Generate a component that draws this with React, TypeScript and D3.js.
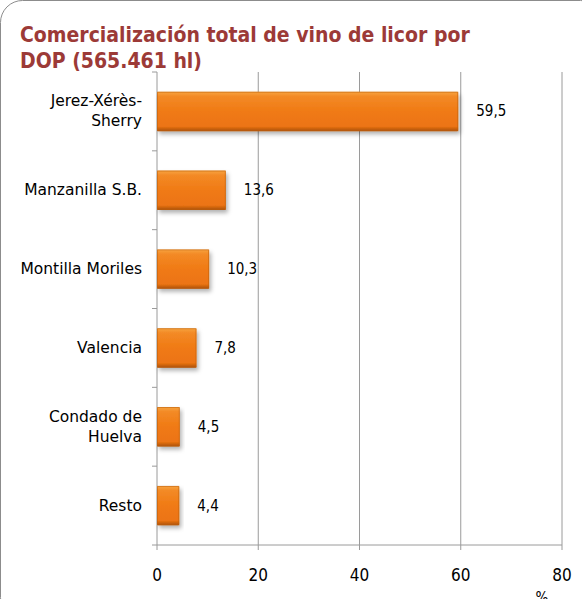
import React from "react";
import * as d3 from "d3";

const categories = ["Jerez-Xérès-Sherry", "Manzanilla S.B.", "Montilla Moriles", "Valencia", "Condado de Huelva", "Resto"];
const labelLines = [["Jerez-Xérès-", "Sherry"], ["Manzanilla S.B."], ["Montilla Moriles"], ["Valencia"], ["Condado de", "Huelva"], ["Resto"]];
const values = [59.5, 13.6, 10.3, 7.8, 4.5, 4.4];
const valueLabels = ["59,5", "13,6", "10,3", "7,8", "4,5", "4,4"];
const xTicks = [0, 20, 40, 60, 80];
const titleLines = ["Comercialización total de vino de licor por", "DOP (565.461 hl)"];

const W = 582, H = 599;
const left = 157, right = 562, top = 72, bottom = 545;
const font = "'DejaVu Sans Condensed', 'DejaVu Sans', sans-serif";
const font2 = "'DejaVu Sans', sans-serif";

export default function App() {
  const x = d3.scaleLinear().domain([0, 80]).range([left, right]);
  const y = d3.scaleBand().domain(categories).range([top, bottom]).paddingInner(0.5).paddingOuter(0.25);
  const bandStep = (bottom - top) / categories.length;
  return (
    <svg width={W} height={H} style={{ position: "absolute", left: 0, top: 0 }}>
      <defs>
        <linearGradient id="barG" x1="0" y1="0" x2="0" y2="1">
          <stop offset="0" stopColor="#f7a540" />
          <stop offset="0.12" stopColor="#f38a26" />
          <stop offset="0.5" stopColor="#f07a14" />
          <stop offset="0.88" stopColor="#ec7412" />
          <stop offset="1" stopColor="#a9500c" />
        </linearGradient>
        <filter id="sh" x="-10%" y="-20%" width="130%" height="160%">
          <feDropShadow dx="2" dy="3" stdDeviation="2" floodColor="#000" floodOpacity="0.3" />
        </filter>
      </defs>
      <rect x={0.5} y={0.5} width={W + 20} height={H + 20} rx={22} fill="#fff" stroke="#8c8c8c" />
      {titleLines.map((t, i) => (
        <text key={i} x={20} y={42 + i * 26} fontFamily={font} fontWeight="bold" fontSize={21} fill="#9c3a37">{t}</text>
      ))}
      {xTicks.filter(t => t > 0).map(t => (
        <line key={t} x1={x(t)} x2={x(t)} y1={top} y2={bottom} stroke="#9a9a9a" />
      ))}
      <line x1={left} x2={left} y1={top} y2={bottom} stroke="#9a9a9a" />
      <line x1={left - 5} x2={right} y1={bottom} y2={bottom} stroke="#9a9a9a" />
      {d3.range(categories.length).map(i => (
        <line key={i} x1={left - 5} x2={left} y1={top + i * bandStep} y2={top + i * bandStep} stroke="#9a9a9a" />
      ))}
      {xTicks.map(t => (
        <g key={t}>
          <line x1={x(t)} x2={x(t)} y1={bottom} y2={bottom + 5} stroke="#9a9a9a" />
          <text x={x(t)} y={bottom + 36} textAnchor="middle" fontFamily={font} fontSize={17} fill="#000">{t}</text>
        </g>
      ))}
      <text x={542} y={603} textAnchor="middle" fontFamily={font} fontSize={15} fill="#000">%</text>
      {categories.map((c, i) => {
        const by = y(c)!;
        const bh = y.bandwidth();
        const bw = x(values[i]) - x(0);
        const cy = by + bh / 2;
        const lines = labelLines[i];
        return (
          <g key={c}>
            <rect x={x(0)} y={by} width={bw} height={bh} fill="url(#barG)" filter="url(#sh)" rx={1} />
            <rect x={x(0) + 0.5} y={by + 0.5} width={bw - 1} height={bh - 1} fill="none" stroke="#c0600e" strokeOpacity={0.6} />
            <text x={x(values[i]) + 18} y={cy + 5} fontFamily={font} fontSize={15} fill="#000">{valueLabels[i]}</text>
            {lines.map((l, j) => (
              <text key={j} x={142} y={cy + 5 + (j - (lines.length - 1) / 2) * 20} textAnchor="end" fontFamily={font2} fontSize={15.5} fill="#000">{l}</text>
            ))}
          </g>
        );
      })}
    </svg>
  );
}
